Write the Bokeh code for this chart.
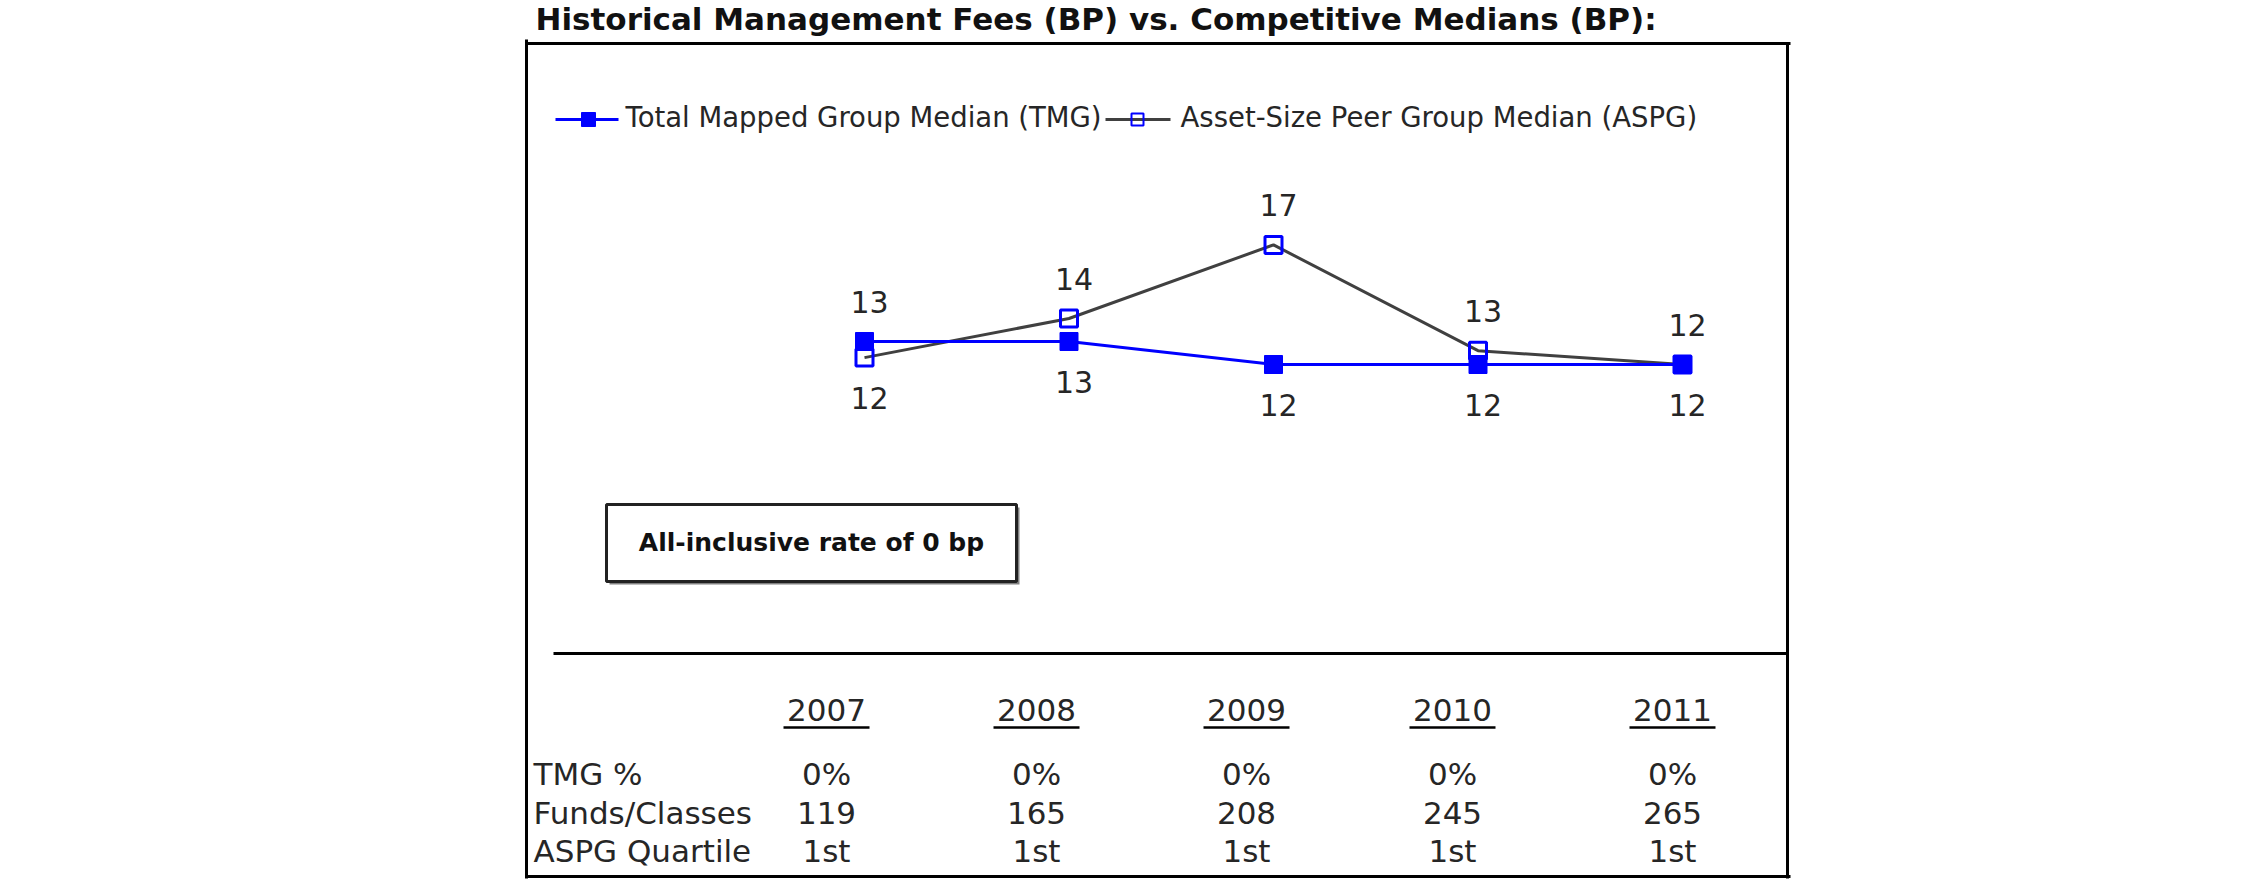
from bokeh.plotting import figure
from bokeh.models import Range1d
from bokeh.core.properties import value
from bokeh.embed import file_html
from bokeh.resources import INLINE

# ---------------- data ----------------
years = [2007, 2008, 2009, 2010, 2011]
tmg_median = [13.0, 13.0, 12.0, 12.0, 12.0]
aspg_median = [12.3, 14.0, 17.2, 12.6, 12.0]

title_text = "Historical Management Fees (BP) vs. Competitive Medians (BP):"
tmg_name = "Total Mapped Group Median (TMG)"
aspg_name = "Asset-Size Peer Group Median (ASPG)"
note_text = "All-inclusive rate of 0 bp"

row_labels = ["TMG %", "Funds/Classes", "ASPG Quartile"]
tmg_pct = ["0%", "0%", "0%", "0%", "0%"]
funds_classes = [119, 165, 208, 245, 265]
aspg_quartile = ["1st", "1st", "1st", "1st", "1st"]

# ---------------- geometry (pixel layout helpers) ----------------
W, H = 2250, 895
PPX = 204.5          # pixels per year
PPY = 23.0           # pixels per bp
X_AT_2007 = 864      # pixel x of first year
Y_AT_12 = 364        # pixel y (from top) of 12 bp

x0 = years[0] - X_AT_2007 / PPX
x1 = x0 + W / PPX
y1 = 12 + Y_AT_12 / PPY
y0 = y1 - H / PPY


def X(px):
    return x0 + px / PPX


def Y(py):
    return y1 - py / PPY


FONT = value("DejaVu Sans")
BLUE = "#0000FF"
GRAY = "#404040"
TXT = "#262626"

p = figure(width=W, height=H, x_range=Range1d(x0, x1), y_range=Range1d(y0, y1),
           output_backend="svg", toolbar_location=None, min_border=0,
           x_axis_location=None, y_axis_location=None)
p.grid.visible = False
p.outline_line_color = None
p.background_fill_color = "white"
p.border_fill_color = "white"

# ---------------- title ----------------
p.text(x=[X(535)], y=[Y(18)], text=[title_text], text_font=FONT,
       text_font_size="31px", text_font_style="bold", text_color="#111111",
       text_baseline="middle", text_align="left")

# ---------------- frame ----------------
LW = 3
p.segment(x0=[X(526), X(526), X(1787), X(526), X(553)],
          y0=[Y(43), Y(39), Y(43), Y(876), Y(653)],
          x1=[X(1790), X(526), X(1787), X(1790), X(1787)],
          y1=[Y(43), Y(878), Y(878), Y(876), Y(653)],
          line_color="black", line_width=LW)

# ---------------- legend ----------------
LEG_Y = 119
p.line(x=[X(555), X(618)], y=[Y(LEG_Y), Y(LEG_Y)], line_color=BLUE, line_width=3)
p.scatter(x=[X(588)], y=[Y(LEG_Y)], marker="square", size=14,
          fill_color=BLUE, line_color=BLUE)
p.text(x=[X(625)], y=[Y(116)], text=[tmg_name], text_font=FONT,
       text_font_size="27.5px", text_color=TXT, text_baseline="middle")
p.line(x=[X(1105), X(1170)], y=[Y(LEG_Y), Y(LEG_Y)], line_color=GRAY, line_width=3)
p.scatter(x=[X(1137)], y=[Y(LEG_Y)], marker="square", size=12,
          fill_color=None, line_color=BLUE, line_width=2)
p.text(x=[X(1180)], y=[Y(116)], text=[aspg_name], text_font=FONT,
       text_font_size="27.5px", text_color=TXT, text_baseline="middle")

# ---------------- series ----------------
p.line(x=years, y=aspg_median, line_color=GRAY, line_width=3)
p.scatter(x=years, y=aspg_median, marker="square", size=17,
          fill_color=None, line_color=BLUE, line_width=3)
p.line(x=years, y=tmg_median, line_color=BLUE, line_width=3)
p.scatter(x=years, y=tmg_median, marker="square", size=18,
          fill_color=BLUE, line_color=BLUE)

# data labels: higher series above, lower series below
OFF = 40 / PPY
lab_x, lab_y, lab_t = [], [], []
for yr, t, a in zip(years, tmg_median, aspg_median):
    if t > a:
        lab_x += [yr, yr]
        lab_y += [t + OFF, a - OFF]
    else:
        lab_x += [yr, yr]
        lab_y += [t - OFF, a + OFF]
    lab_t += [str(int(t + 0.5)), str(int(a + 0.5))]
p.text(x=lab_x, y=lab_y, text=lab_t, text_font=FONT, text_font_size="30px",
       text_color=TXT, text_align="center", text_baseline="middle", x_offset=5)

# ---------------- note box ----------------
p.quad(left=[X(609)], right=[X(1019)], top=[Y(507)], bottom=[Y(584)],
       fill_color="#808080", line_color=None)
p.quad(left=[X(606)], right=[X(1016)], top=[Y(504)], bottom=[Y(581)],
       fill_color="white", line_color="#222222", line_width=3)
p.text(x=[X(811)], y=[Y(542)], text=[note_text], text_font=FONT,
       text_font_size="25px", text_font_style="bold", text_color="#111111",
       text_align="center", text_baseline="middle")

# ---------------- table ----------------
col_px = [826, 1036, 1246, 1452, 1672]
col_x = [X(c) for c in col_px]
TFS = "31px"
p.text(x=col_x, y=[Y(709)] * 5, text=[str(y) for y in years], text_font=FONT,
       text_font_size=TFS, text_color=TXT, text_align="center",
       text_baseline="middle")
p.segment(x0=[X(c - 43) for c in col_px], y0=[Y(727)] * 5,
          x1=[X(c + 43) for c in col_px], y1=[Y(727)] * 5,
          line_color="black", line_width=2.5)

row_mid = [773, 812, 850]
p.text(x=[X(533)] * 3, y=[Y(b) for b in row_mid], text=row_labels, text_font=FONT,
       text_font_size=TFS, text_color=TXT, text_align="left",
       text_baseline="middle")
for b, vals in zip(row_mid, [tmg_pct, funds_classes, aspg_quartile]):
    p.text(x=col_x, y=[Y(b)] * 5, text=[str(v) for v in vals], text_font=FONT,
           text_font_size=TFS, text_color=TXT, text_align="center",
           text_baseline="middle")

open("out.html", "w").write(file_html(p, INLINE))
